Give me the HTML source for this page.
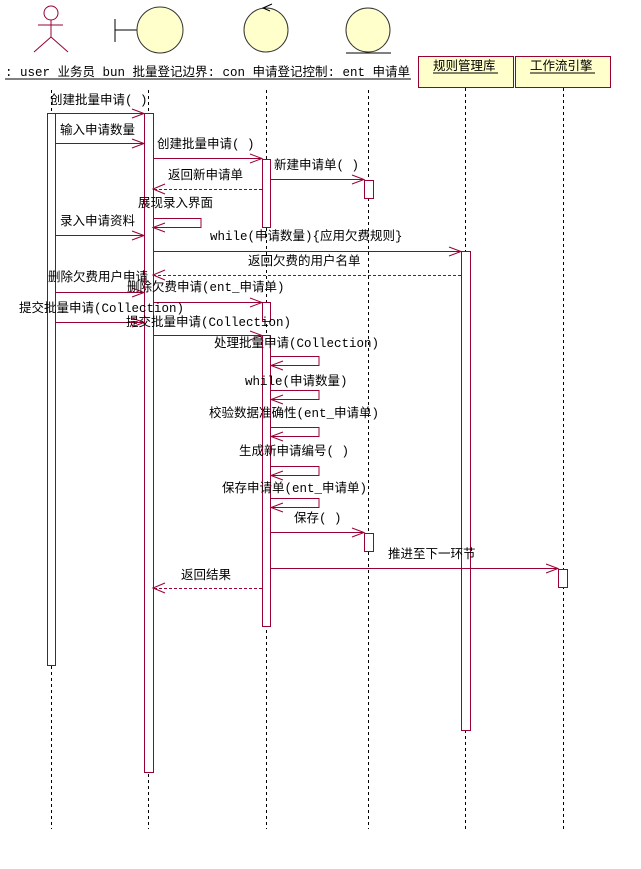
<!DOCTYPE html>
<html><head><meta charset="utf-8"><style>
body{margin:0;background:#fff}
svg{display:block}
text{font-family:"Liberation Mono","WenQuanYi Zen Hei",monospace;font-size:12.5px;fill:#000}
.m{stroke:#990033;stroke-width:1;fill:none}
.a{stroke:#990033;stroke-width:1;fill:#fff}
.d{stroke:#990033;stroke-width:1;fill:none;stroke-dasharray:3,2}
.l{stroke:#000;stroke-width:1;stroke-dasharray:3,3}
</style></head><body>
<svg width="641" height="869" viewBox="0 0 641 869">
<line class="l" x1="51.5" y1="90" x2="51.5" y2="829"/>
<line class="l" x1="148.5" y1="90" x2="148.5" y2="829"/>
<line class="l" x1="266.5" y1="90" x2="266.5" y2="829"/>
<line class="l" x1="368.5" y1="90" x2="368.5" y2="829"/>
<line class="l" x1="465.5" y1="88" x2="465.5" y2="829"/>
<line class="l" x1="563.5" y1="88" x2="563.5" y2="829"/>
<circle cx="51" cy="13" r="7" fill="#fff" stroke="#990033"/>
<line class="m" x1="51" y1="20" x2="51" y2="37"/>
<line class="m" x1="38" y1="25" x2="63" y2="25"/>
<line class="m" x1="51" y1="37" x2="34" y2="52"/>
<line class="m" x1="51" y1="37" x2="68" y2="52"/>
<line x1="115" y1="19" x2="115" y2="42" stroke="#000"/>
<line x1="115" y1="30" x2="137" y2="30" stroke="#000"/>
<circle cx="160" cy="30" r="23" fill="#ffffcc" stroke="#333"/>
<circle cx="266" cy="30" r="22" fill="#ffffcc" stroke="#333"/>
<path d="M272 4 L263 8 L270 11" stroke="#000" fill="none"/>
<circle cx="368" cy="30" r="22" fill="#ffffcc" stroke="#333"/>
<line x1="346" y1="53" x2="391" y2="53" stroke="#000"/>
<text x="5" y="76">: user 业务员 bun 批量登记边界: con 申请登记控制: ent 申请单</text>
<line x1="5" y1="79" x2="411" y2="79" stroke="#000"/>
<rect x="418.5" y="56.5" width="95" height="31" fill="#ffffcc" stroke="#990033"/>
<rect x="515.5" y="56.5" width="95" height="31" fill="#ffffcc" stroke="#990033"/>
<text x="433" y="70">规则管理库</text>
<line x1="433" y1="73" x2="498" y2="73" stroke="#000"/>
<text x="530" y="70">工作流引擎</text>
<line x1="530" y1="73" x2="595" y2="73" stroke="#000"/>
<rect class="a" x="47.5" y="113.5" width="8" height="552"/>
<rect class="a" x="144.5" y="113.5" width="9" height="659"/>
<rect class="a" x="262.5" y="159.5" width="8" height="68"/>
<rect class="a" x="364.5" y="180.5" width="9" height="18"/>
<rect class="a" x="461.5" y="251.5" width="9" height="479"/>
<rect class="a" x="262.5" y="302.5" width="8" height="19"/>
<rect class="a" x="262.5" y="335.5" width="8" height="291"/>
<rect class="a" x="364.5" y="533.5" width="9" height="18"/>
<rect class="a" x="558.5" y="569.5" width="9" height="18"/>
<g class="m">
<line x1="55" y1="113.5" x2="144" y2="113.5"/><path d="M132 109 L144 113.5 L132 118"/>
<line x1="55" y1="143.5" x2="144" y2="143.5"/><path d="M132 139 L144 143.5 L132 148"/>
<line x1="153" y1="158.5" x2="262" y2="158.5"/><path d="M250 154 L262 158.5 L250 163"/>
<line x1="271" y1="179.5" x2="364" y2="179.5"/><path d="M352 175 L364 179.5 L352 184"/>
<path d="M153 218.5 H201 V227.5 H153"/><path d="M165 223 L153 227.5 L165 232"/>
<line x1="55" y1="235.5" x2="144" y2="235.5"/><path d="M132 231 L144 235.5 L132 240"/>
<line x1="153" y1="251.5" x2="461" y2="251.5"/><path d="M449 247 L461 251.5 L449 256"/>
<line x1="55" y1="292.5" x2="144" y2="292.5"/><path d="M132 288 L144 292.5 L132 297"/>
<line x1="153" y1="302.5" x2="262" y2="302.5"/><path d="M250 298 L262 302.5 L250 307"/>
<line x1="55" y1="322.5" x2="144" y2="322.5"/><path d="M132 318 L144 322.5 L132 327"/>
<line x1="153" y1="335.5" x2="262" y2="335.5"/><path d="M250 331 L262 335.5 L250 340"/>
<path d="M271 356.5 H319 V365.5 H271"/><path d="M283 361 L271 365.5 L283 370"/>
<path d="M271 390.5 H319 V399.5 H271"/><path d="M283 395 L271 399.5 L283 404"/>
<path d="M271 427.5 H319 V436.5 H271"/><path d="M283 432 L271 436.5 L283 441"/>
<path d="M271 466.5 H319 V475.5 H271"/><path d="M283 471 L271 475.5 L283 480"/>
<path d="M271 498.5 H319 V507.5 H271"/><path d="M283 503 L271 507.5 L283 512"/>
<line x1="271" y1="532.5" x2="364" y2="532.5"/><path d="M352 528 L364 532.5 L352 537"/>
<line x1="271" y1="568.5" x2="558" y2="568.5"/><path d="M546 564 L558 568.5 L546 573"/>
<path d="M165 184 L153 189 L165 194"/>
<path d="M165 270 L153 275 L165 280"/>
<path d="M165 583 L153 588 L165 593"/>
</g>
<line class="d" x1="262" y1="189.5" x2="153" y2="189.5"/>
<line class="d" x1="461" y1="275.5" x2="153" y2="275.5"/>
<line class="d" x1="262" y1="588.5" x2="153" y2="588.5"/>
<text x="50" y="104">创建批量申请( )</text>
<text x="60" y="134">输入申请数量</text>
<text x="157" y="148">创建批量申请( )</text>
<text x="274" y="169">新建申请单( )</text>
<text x="168" y="179">返回新申请单</text>
<text x="138" y="207">展现录入界面</text>
<text x="60" y="225">录入申请资料</text>
<text x="210" y="240">while(申请数量){应用欠费规则}</text>
<text x="248" y="265">返回欠费的用户名单</text>
<text x="48" y="281">删除欠费用户申请</text>
<text x="127" y="291">删除欠费申请(ent_申请单)</text>
<text x="19" y="312">提交批量申请(Collection)</text>
<text x="126" y="326">提交批量申请(Collection)</text>
<text x="214" y="347">处理批量申请(Collection)</text>
<text x="245" y="385">while(申请数量)</text>
<text x="209" y="417">校验数据准确性(ent_申请单)</text>
<text x="239" y="455">生成新申请编号( )</text>
<text x="222" y="492">保存申请单(ent_申请单)</text>
<text x="294" y="522">保存( )</text>
<text x="388" y="558">推进至下一环节</text>
<text x="181" y="579">返回结果</text>
</svg>
</body></html>
